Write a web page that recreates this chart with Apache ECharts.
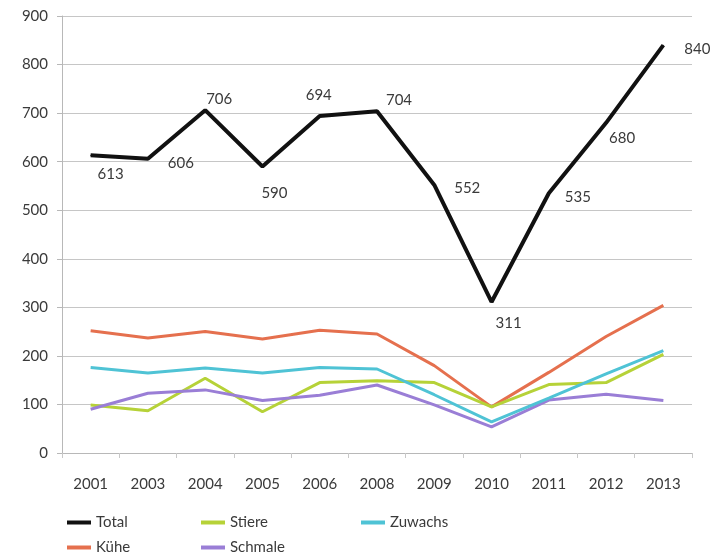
<!DOCTYPE html>
<html>
<head>
<meta charset="utf-8">
<script src="https://cdn.jsdelivr.net/npm/echarts@6/dist/echarts.min.js"></script>
<style>
html,body{margin:0;padding:0;background:#fff;}
#chart{width:723px;height:558px;}
</style>
</head>
<body>
<div id="chart"></div>
<script>
// Daten
var years = ['2001','2003','2004','2005','2006','2008','2009','2010','2011','2012','2013'];
var total = [613, 606, 706, 590, 694, 704, 552, 311, 535, 680, 840];
var kuehe = [252, 237, 250, 235, 253, 245, 180, 95, 166, 240, 304];
var stiere = [99, 87, 154, 85, 145, 149, 145, 95, 141, 145, 203];
var schmale = [90, 123, 130, 108, 119, 140, 99, 54, 109, 121, 108];
var zuwachs = [176, 165, 175, 165, 176, 173, 120, 64, 113, 163, 211];
var yTicks = [0, 100, 200, 300, 400, 500, 600, 700, 800, 900];

// Lage der Werte-Beschriftungen (Pixel relativ zum Punkt)
var labelOffsets = [[20,19],[33,4],[14,-11],[12,27],[-1,-21],[22,-11],[33,3],[17,21],[29,4],[16,15],[34,4]];

var txt = '#3a3a3a';
var font = 'Lato, "Open Sans", sans-serif';

function lineSeries(name, data, color, width){
    return {
        name: name,
        type: 'line',
        data: data,
        symbol: 'none',
        lineStyle: {color: color, width: width},
        itemStyle: {color: color},
        z: 2
    };
}

// eine Legende pro Eintrag, damit die Spalten wie im Original stehen
function legendAt(name, left, top){
    return {
        show: true,
        left: left,
        top: top,
        orient: 'horizontal',
        itemWidth: 24,
        itemHeight: 4,
        itemGap: 8,
        icon: 'rect',
        textStyle: {color: txt, fontSize: 15, fontFamily: font},
        data: [name]
    };
}

var totalData = total.map(function(v, i){
    return {
        value: v,
        label: {offset: labelOffsets[i]}
    };
});

var myChart = echarts.init(document.getElementById('chart'));
myChart.setOption({
    animation: false,
    textStyle: {fontFamily: font},
    grid: {left: 62, right: 31, top: 16, bottom: 105},
    xAxis: {
        type: 'category',
        data: years,
        boundaryGap: true,
        axisLine: {lineStyle: {color: '#b8b8b8'}},
        axisTick: {show: true, alignWithLabel: false, lineStyle: {color: '#c8c8c8'}},
        axisLabel: {color: txt, fontSize: 15, margin: 24, fontFamily: font}
    },
    yAxis: {
        type: 'value',
        min: yTicks[0],
        max: yTicks[yTicks.length - 1],
        interval: 100,
        axisLine: {show: true, lineStyle: {color: '#b8b8b8'}},
        axisTick: {show: true, length: 5, lineStyle: {color: '#b8b8b8'}},
        splitLine: {lineStyle: {color: '#c6c6c6', width: 1}},
        axisLabel: {color: txt, fontSize: 15, margin: 14, fontFamily: font}
    },
    legend: [
        legendAt('Total', 62, 510),
        legendAt('Kühe', 62, 535),
        legendAt('Stiere', 196, 510),
        legendAt('Schmale', 196, 535),
        legendAt('Zuwachs', 356, 510)
    ],
    series: [
        lineSeries('Kühe', kuehe, '#e5704e', 3),
        lineSeries('Stiere', stiere, '#b6d238', 3),
        lineSeries('Schmale', schmale, '#9a7ed6', 3),
        lineSeries('Zuwachs', zuwachs, '#4fc3d5', 3),
        {
            name: 'Total',
            type: 'line',
            data: totalData,
            symbol: 'circle',
            symbolSize: 1,
            showSymbol: true,
            lineStyle: {color: '#111', width: 4},
            itemStyle: {color: '#111'},
            label: {
                show: true,
                position: 'inside',
                color: txt,
                fontSize: 15,
                fontFamily: font
            },
            z: 3
        }
    ]
});
</script>
</body>
</html>
